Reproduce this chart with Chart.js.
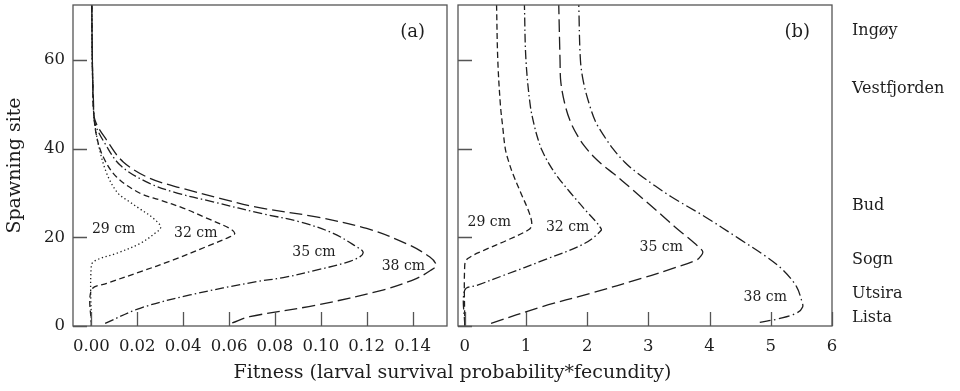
<!DOCTYPE html>
<html>
<head>
<meta charset="utf-8">
<script src="https://cdn.jsdelivr.net/npm/chart.js@4"></script>
<style>
  body { margin: 0; background: #fff; }
  #wrap { position: relative; width: 960px; height: 391px; }
  canvas { position: absolute; left: 0; top: 0; }
  #xtitle {
    position: absolute; left: 73px; width: 759px; top: 360px;
    text-align: center; font: 19px "DejaVu Serif"; line-height: 22px; color: #1e1e1e;
  }
</style>
</head>
<body>
<div id="wrap">
  <canvas id="chartA" width="960" height="391"></canvas>
  <canvas id="chartB" width="960" height="391"></canvas>
  <div id="xtitle">Fitness (larval survival probability*fecundity)</div>
</div>
<script>
// fish length classes
const sizes = ['29 cm', '32 cm', '35 cm', '38 cm'];

// (a) fitness vs spawning site, pairs of [fitness, site]
const fitA29 = [[0, 0], [0, 13.7], [0.0023, 14.9], [0.011, 16.4], [0.0212, 18.6], [0.0277, 20.9], [0.0302, 22.3],
  [0.027, 24.3], [0.0212, 26.4], [0.0161, 28.2], [0.0115, 30.0], [0.0067, 34.4], [0.003, 41.1], [0.0012, 47],
  [0.0006, 55], [0.0003, 63], [0.0002, 72.4]];
const fitA32 = [[0, 0], [0, 8.1], [0.0067, 9.6], [0.0212, 12.2], [0.0357, 14.9], [0.0501, 17.9], [0.0603, 20.1],
  [0.0625, 20.9], [0.0603, 22.0], [0.0495, 24.5], [0.040, 26.6], [0.030, 28.4], [0.021, 30.0], [0.011, 33.6],
  [0.0052, 38.1], [0.0022, 43], [0.0009, 49], [0.0005, 57], [0.0003, 65], [0.0002, 72.4]];
const fitA35 = [[0.006, 0.6], [0.0212, 4.0], [0.043, 7.0], [0.072, 10.0], [0.0836, 10.9], [0.098, 12.6],
  [0.111, 14.3], [0.117, 15.6], [0.1184, 16.7], [0.1155, 17.9], [0.1054, 20.9], [0.0909, 23.5], [0.0748, 25.3],
  [0.053, 28.0], [0.036, 30.2], [0.024, 32.5], [0.0125, 36.3], [0.006, 41.1], [0.0016, 45.7], [0.0009, 50],
  [0.0005, 58], [0.0003, 66], [0.0002, 72.4]];
const fitA38 = [[0.0614, 0.7], [0.069, 2.1], [0.098, 4.7], [0.127, 8.1], [0.1416, 10.7], [0.148, 12.6],
  [0.1503, 13.7], [0.1474, 15.6], [0.1372, 18.6], [0.12, 22.0], [0.098, 24.6], [0.072, 26.8], [0.056, 28.8],
  [0.040, 31.0], [0.0255, 33.3], [0.0139, 37.0], [0.0067, 41.9], [0.0016, 46.4], [0.0009, 51], [0.0005, 58],
  [0.0003, 66], [0.0002, 72.4]];

// (b) same, second scenario
const fitB29 = [[0, 0], [0, 13.7], [0.05, 15.2], [0.32, 17.1], [0.70, 19.4], [1.03, 21.6], [1.095, 22.7],
  [1.057, 25.4], [0.92, 29.9], [0.784, 34.4], [0.72, 37], [0.665, 39.8], [0.62, 45], [0.583, 49.8], [0.54, 60],
  [0.52, 72.4]];
const fitB32 = [[0, 0], [0, 8.1], [0.21, 9.2], [0.65, 11.5], [1.30, 14.9], [1.955, 18.6], [2.23, 21.6],
  [2.2, 22.5], [2.12, 23.9], [1.98, 26], [1.83, 28.4], [1.70, 30.5], [1.52, 33.6], [1.38, 36.5], [1.26, 39.7],
  [1.2, 42], [1.14, 45], [1.07, 49.8], [1.0, 60], [0.975, 72.4]];
const fitB35 = [[0.43, 0.6], [1.25, 4.3], [2.06, 7.4], [2.93, 10.9], [3.40, 13.0], [3.79, 14.9], [3.86, 15.8],
  [3.89, 16.7], [3.85, 17.5], [3.76, 18.6], [3.64, 20], [3.43, 22.4], [3.22, 25], [2.97, 28], [2.72, 31],
  [2.43, 34.4], [2.28, 36], [2.12, 38], [1.96, 40.5], [1.84, 43], [1.73, 46], [1.64, 49.8], [1.57, 55],
  [1.557, 60], [1.536, 72.4]];
const fitB38 = [[4.82, 0.8], [5.15, 1.7], [5.42, 2.9], [5.52, 4.3], [5.50, 5.9], [5.42, 8.9], [5.20, 12.6],
  [4.93, 15.6], [4.48, 19.7], [3.93, 24.6], [3.38, 29.1], [3.12, 31.5], [2.82, 34.5], [2.61, 37], [2.42, 40],
  [2.27, 43], [2.14, 46], [2.04, 49.8], [1.94, 55], [1.89, 60], [1.863, 72.4]];

// axes
const ticksA = [0, 0.02, 0.04, 0.06, 0.08, 0.10, 0.12, 0.14];
const ticksB = [0, 1, 2, 3, 4, 5, 6];
const siteTicks = [0, 20, 40, 60];
const siteNames = ['Ingøy', 'Vestfjorden', 'Bud', 'Sogn', 'Utsira', 'Lista'];
const siteValues = [66.6, 53.5, 27.1, 15.0, 7.3, 1.9];

// where the size labels sit, in data units
const labelPosA = [[0.0097, 21.9], [0.0455, 20.8], [0.097, 16.6], [0.136, 13.4]];
const labelPosB = [[0.40, 23.4], [1.68, 22.3], [3.21, 17.8], [4.91, 6.4]];

const SERIF = '"DejaVu Serif", serif';
const INK = '#1e1e1e';
const dashA = [[1.3, 2.6], [6, 3.5], [9, 3, 1.5, 3], [13, 5]];
const dashB = [[6, 3.5], [9, 3, 1.5, 3], [13, 5], [11, 3.5, 1.5, 3.5]];

// box around the plot, inward tick marks, panel letter and curve labels
const panelFrame = {
  id: 'panelFrame',
  afterDraw(chart, args, opts) {
    const { ctx, chartArea: a, scales } = chart;
    ctx.save();
    ctx.strokeStyle = '#555';
    ctx.lineWidth = 1.3;
    ctx.strokeRect(a.left, a.top, a.right - a.left, a.bottom - a.top);
    ctx.beginPath();
    scales.x.ticks.forEach(t => {
      const px = Math.round(scales.x.getPixelForValue(t.value)) + 0.5;
      ctx.moveTo(px, a.bottom);
      ctx.lineTo(px, a.bottom - 14);
    });
    scales.y.ticks.forEach(t => {
      const py = Math.round(scales.y.getPixelForValue(t.value)) + 0.5;
      ctx.moveTo(a.left, py);
      ctx.lineTo(a.left + 14, py);
    });
    ctx.stroke();

    ctx.fillStyle = INK;
    ctx.font = '18px ' + SERIF;
    ctx.textAlign = 'right';
    ctx.textBaseline = 'middle';
    ctx.fillText(opts.letter, a.right - 22, a.top + 27);

    ctx.font = '14px ' + SERIF;
    ctx.textAlign = 'center';
    opts.labelPos.forEach((p, i) => {
      ctx.fillText(sizes[i], scales.x.getPixelForValue(p[0]), scales.y.getPixelForValue(p[1]));
    });
    ctx.restore();
  }
};

function toPoints(pairs) {
  return pairs.map(p => ({ x: p[0], y: p[1] }));
}

function makeSets(series, dashes) {
  return series.map((s, i) => ({
    label: sizes[i],
    data: toPoints(s),
    showLine: true,
    borderColor: INK,
    borderWidth: 1.3,
    borderDash: dashes[i],
    pointRadius: 0,
    tension: 0.35,
    fill: false
  }));
}

function noPad(s) {
  s.paddingTop = 0;
  s.paddingBottom = 0;
  s.paddingLeft = 0;
  s.paddingRight = 0;
}

const tickFont = { family: SERIF, size: 16.5 };
const noGrid = { display: false, drawTicks: false };

new Chart(document.getElementById('chartA'), {
  type: 'scatter',
  data: { datasets: makeSets([fitA29, fitA32, fitA35, fitA38], dashA) },
  options: {
    responsive: false,
    animation: false,
    layout: { padding: { left: 0, top: 5, right: 513, bottom: 0 } },
    plugins: {
      legend: { display: false },
      tooltip: { enabled: false },
      panelFrame: { letter: '(a)', labelPos: labelPosA }
    },
    scales: {
      x: {
        min: -0.008, max: 0.155,
        grid: noGrid,
        border: { display: false },
        afterBuildTicks: s => { s.ticks = ticksA.map(v => ({ value: v })); },
        afterFit: s => { s.height = 65; noPad(s); },
        ticks: { color: INK, font: tickFont, padding: 11, maxRotation: 0,
          callback: v => v.toFixed(2) }
      },
      y: {
        min: 0, max: 72.4,
        grid: noGrid,
        border: { display: false },
        afterBuildTicks: s => { s.ticks = siteTicks.map(v => ({ value: v })); },
        afterFit: s => { s.width = 73; noPad(s); },
        ticks: { color: INK, font: tickFont, padding: 8 },
        title: { display: true, text: 'Spawning site', color: INK,
          font: { family: SERIF, size: 19 }, padding: { top: 4, bottom: 0 } }
      }
    }
  },
  plugins: [panelFrame]
});

new Chart(document.getElementById('chartB'), {
  type: 'scatter',
  data: { datasets: makeSets([fitB29, fitB32, fitB35, fitB38], dashB) },
  options: {
    responsive: false,
    animation: false,
    layout: { padding: { left: 458, top: 5, right: 0, bottom: 0 } },
    plugins: {
      legend: { display: false },
      tooltip: { enabled: false },
      panelFrame: { letter: '(b)', labelPos: labelPosB }
    },
    scales: {
      x: {
        min: -0.11, max: 6,
        grid: noGrid,
        border: { display: false },
        afterBuildTicks: s => { s.ticks = ticksB.map(v => ({ value: v })); },
        afterFit: s => { s.height = 65; noPad(s); },
        ticks: { color: INK, font: tickFont, padding: 11, maxRotation: 0 }
      },
      y: {
        min: 0, max: 72.4,
        grid: noGrid,
        border: { display: false },
        afterBuildTicks: s => { s.ticks = siteTicks.map(v => ({ value: v })); },
        afterFit: s => { s.width = 0; noPad(s); },
        ticks: { display: false }
      },
      y2: {
        position: 'right',
        min: 0, max: 72.4,
        grid: noGrid,
        border: { display: false },
        afterBuildTicks: s => { s.ticks = siteValues.map(v => ({ value: v })); },
        afterFit: s => { s.width = 128; noPad(s); },
        ticks: { color: INK, font: { family: SERIF, size: 16 }, padding: 20, autoSkip: false,
          callback: (v, i) => siteNames[i] }
      }
    }
  },
  plugins: [panelFrame]
});
</script>
</body>
</html>
